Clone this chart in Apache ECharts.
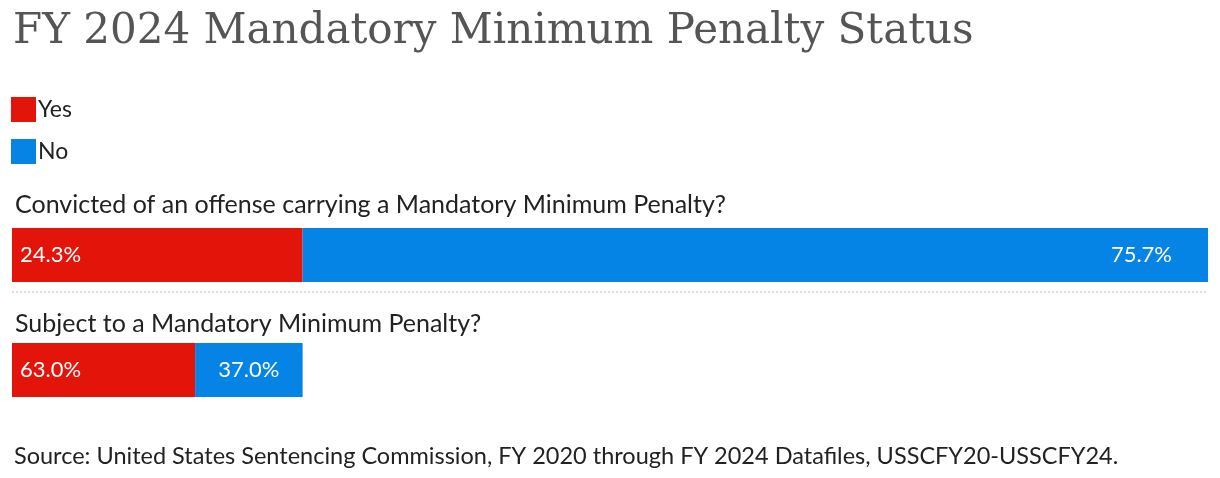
<!DOCTYPE html>
<html><head><meta charset="utf-8">
<script src="https://cdn.jsdelivr.net/npm/echarts@6/dist/echarts.min.js"></script>
<style>body{margin:0}#c{width:1220px;height:478px}</style></head>
<body><div id="c"></div>
<script>
const questions = ['Convicted of an offense carrying a Mandatory Minimum Penalty?', 'Subject to a Mandatory Minimum Penalty?'];
const convictedYes = 24.3, convictedNo = 75.7;
const subjectYes = 63.0, subjectNo = 37.0;
const c = echarts.init(document.getElementById('c'));
const F = 'Lato, "Noto Sans", sans-serif';
const red = '#e3140a', blue = '#0584e6';
const sw = convictedYes / 100;
function lab(pos, txt, d) { return {show:true, position:pos, formatter:txt, color:'#fff', fontFamily:F, fontSize:22, distance:d||8}; }
c.setOption({
  animation:false,
  title:[
    {text:'FY 2024 Mandatory Minimum Penalty Status', left:8, top:6, textStyle:{fontFamily:'"DejaVu Serif", serif', fontWeight:'normal', fontSize:42, color:'#555'}},
    {text:questions[0], left:10, top:187, textStyle:{fontFamily:F, fontWeight:'normal', fontSize:25, color:'#222'}},
    {text:questions[1], left:10, top:306, textStyle:{fontFamily:F, fontWeight:'normal', fontSize:25, color:'#222'}},
    {text:'Source: United States Sentencing Commission, FY 2020 through FY 2024 Datafiles, USSCFY20-USSCFY24.', left:9, top:439, textStyle:{fontFamily:F, fontWeight:'normal', fontSize:23.5, color:'#222'}}
  ],
  legend:{orient:'vertical', left:6, top:92, itemWidth:25, itemHeight:25, itemGap:17, icon:'rect', data:['Yes','No'], textStyle:{fontFamily:F, fontSize:23, color:'#222', padding:[0,0,0,-3]}},
  grid:[{left:12, right:12, top:228, height:54}, {left:12, right:12, top:343, height:54}],
  xAxis:[{gridIndex:0, type:'value', min:0, max:100, show:false}, {gridIndex:1, type:'value', min:0, max:100, show:false}],
  yAxis:[{gridIndex:0, type:'category', data:[questions[0]], show:false}, {gridIndex:1, type:'category', data:[questions[1]], show:false}],
  series:[
    {name:'Yes', type:'bar', stack:'a', barWidth:54, xAxisIndex:0, yAxisIndex:0, itemStyle:{color:red}, data:[convictedYes], label:lab('insideLeft', convictedYes.toFixed(1)+'%')},
    {name:'No', type:'bar', stack:'a', barWidth:54, xAxisIndex:0, yAxisIndex:0, itemStyle:{color:blue}, data:[convictedNo], label:lab('insideRight', convictedNo.toFixed(1)+'%', 36)},
    {name:'Yes', type:'bar', stack:'b', barWidth:54, xAxisIndex:1, yAxisIndex:1, itemStyle:{color:red}, data:[subjectYes*sw], label:lab('insideLeft', subjectYes.toFixed(1)+'%')},
    {name:'No', type:'bar', stack:'b', barWidth:54, xAxisIndex:1, yAxisIndex:1, itemStyle:{color:blue}, data:[subjectNo*sw], label:lab('inside', subjectNo.toFixed(1)+'%')}
  ],
  graphic:[{type:'line', shape:{x1:12, y1:292, x2:1208, y2:292}, style:{stroke:'#bbb', lineWidth:1, lineDash:[2,2]}}]
});
</script></body></html>
